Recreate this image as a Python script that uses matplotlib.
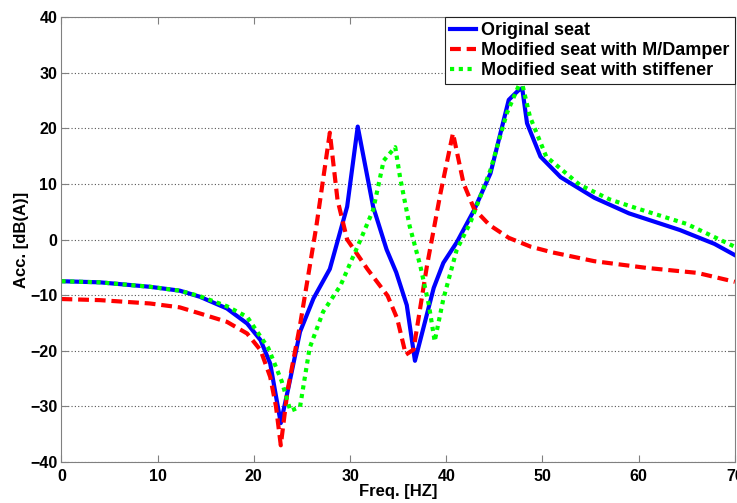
import matplotlib
matplotlib.use('Agg')
import matplotlib.pyplot as plt

plt.rcParams['font.family'] = ['Liberation Sans', 'DejaVu Sans']
plt.rcParams['font.weight'] = 'bold'

# ---------------- data
freq_orig = [0, 4, 9.2, 12.3, 14.4, 17.2, 19.3, 20.7, 21.7, 22.8, 23.6, 24.8, 26.2, 27.9, 29.7, 30.8,
             32.4, 33.8, 34.8, 35.9, 36.75, 38.7, 39.7, 41.1, 42.9, 44.6, 46.5, 47.5,
             47.9, 48.4, 49.8, 51.9, 55.4, 59, 64.3, 67.9, 70]
acc_orig = [-7.5, -7.7, -8.5, -9.2, -10.3, -12.4, -15.1, -18.1, -22.3, -33.0, -26.6, -16.6, -10.6, -5.3, 5.9, 20.3,
            5.9, -1.8, -5.9, -11.8, -21.8, -8.7, -4.2, -0.5, 5.3, 11.9, 25.1, 26.8,
            27.2, 20.9, 14.9, 11.2, 7.5, 4.7, 1.7, -0.8, -2.8]

freq_damper = [0, 4, 9.2, 12.3, 14.4, 17.2, 19.3, 20.7, 21.7, 22.3, 22.8, 23.5, 24.8, 26.5, 27.9, 28.7,
               29.7, 31.8, 33.9, 34.9, 35.8, 36.6, 38.0, 39.4, 40.7, 41.8, 42.9, 44.5,
               46.5, 48.8, 51, 55.4, 60.8, 66.1, 70]
acc_damper = [-10.7, -10.9, -11.5, -12.2, -13.3, -14.8, -16.9, -19.9, -24.7, -30, -37, -27.2, -15.4, 2.4, 19.2, 7.1,
              0, -5.3, -10.1, -14.2, -20.7, -19.8, -4.7, 8.3, 19.1, 10.1, 5.5, 2.6,
              0.3, -1.3, -2.3, -3.9, -5.1, -6.0, -7.6]

freq_stiff = [0, 4, 9.2, 12.3, 14.4, 17.2, 19.3, 21.5, 22.9, 23.8, 24.8, 25.8, 27.2, 29.0, 31.1, 32.4,
              33.5, 34.7, 35.2, 36.2, 37.3, 38.2, 38.8, 39.7, 41.1, 42.5, 44.6, 46.3,
              47.8, 48.7, 50.4, 53.9, 57, 60, 65, 70]
acc_stiff = [-7.5, -7.7, -8.5, -9.2, -10.2, -12.0, -13.9, -19.5, -25.5, -30.8, -30.1, -19.5, -13, -8.3, 0, 5.3,
             14.2, 16.6, 11.2, 2.4, -4.7, -11.8, -18.3, -10.7, -1.8, 3.0, 12.5, 22.7,
             28.7, 22.1, 14.9, 9.8, 7.2, 5.5, 2.8, -1.3]

labels = ['Original seat', 'Modified seat with M/Damper', 'Modified seat with stiffener']

# ---------------- plot
fig = plt.figure(figsize=(7.37, 5.03), dpi=100)
ax = fig.add_axes([0.0834, 0.0815, 0.9136, 0.8847])

ax.plot(freq_orig, acc_orig, '-', color='#0000ff', linewidth=3, label=labels[0])
ax.plot(freq_damper, acc_damper, '--', color='#ff0000', linewidth=3, dashes=(2.6, 1.4), label=labels[1])
ax.plot(freq_stiff, acc_stiff, ':', color='#00ff00', linewidth=3, dashes=(1, 1.1), label=labels[2])

ax.set_xlim(0, 70)
ax.set_ylim(-40, 40)
ax.set_xticks(range(0, 71, 10))
ax.set_yticks(range(-40, 41, 10))
ax.yaxis.grid(True, linestyle=(0, (1, 2)), color='#555555', linewidth=0.8)
for sp in ax.spines.values():
    sp.set_color('#808080')
ax.tick_params(direction='in', top=True, right=True, labelsize=11.5, length=5,
               color='#808080', labelcolor='black')
ax.tick_params(axis='x', pad=5)
ax.tick_params(axis='y', pad=3)
for lab in ax.get_xticklabels() + ax.get_yticklabels():
    lab.set_fontweight('bold')

ax.set_xlabel('Freq. [HZ]', fontsize=12, fontweight='bold', labelpad=0)
ax.set_ylabel('Acc. [dB(A)]', fontsize=12, fontweight='bold', labelpad=1)

leg = ax.legend(loc='upper right', fontsize=13, frameon=True, fancybox=False,
                borderaxespad=0, handlelength=1.4, handletextpad=0.3,
                borderpad=0.3, labelspacing=0.15)
leg.get_frame().set_edgecolor('#222222')
leg.get_frame().set_linewidth(0.8)
leg.get_frame().set_alpha(1)
for t in leg.get_texts():
    t.set_fontweight('bold')

fig.savefig('out.png', dpi=100)
plt.close(fig)
